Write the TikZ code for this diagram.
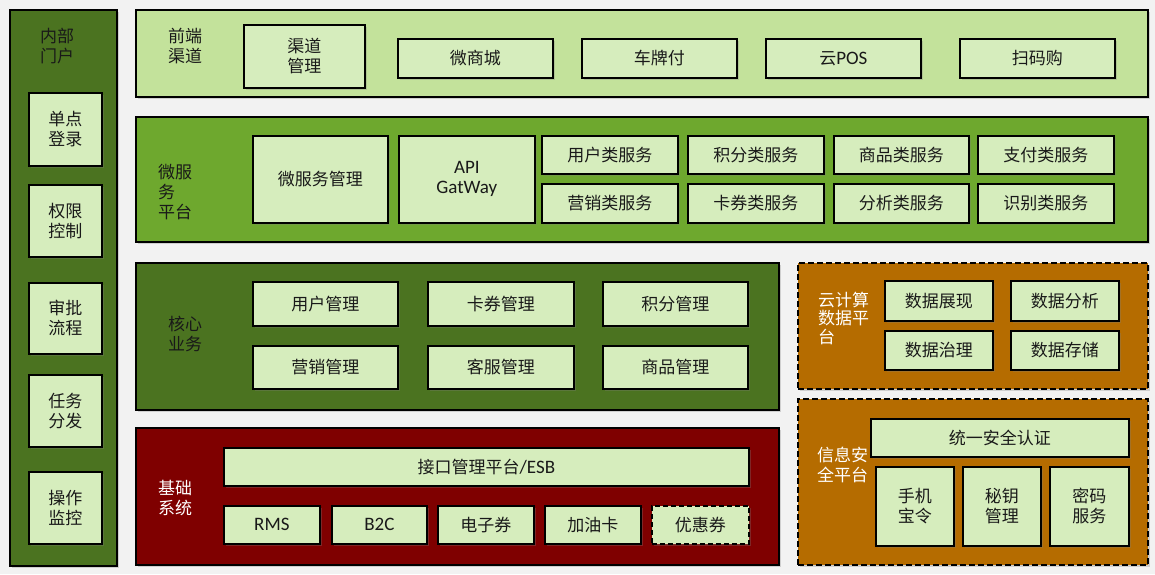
\documentclass[tikz,border=0pt]{standalone}
\usepackage{fontspec}
\setmainfont{Carlito}
\newfontfamily\cjk{Noto Sans CJK SC}
\usetikzlibrary{shadows}
\definecolor{bgc}{HTML}{F2F2F2}
\definecolor{darkg}{HTML}{4B7320}
\definecolor{lightg}{HTML}{C3E29B}
\definecolor{midg}{HTML}{6EA82E}
\definecolor{innerc}{HTML}{D6EDBD}
\definecolor{redc}{HTML}{7F0000}
\definecolor{orc}{HTML}{B56C00}
\tikzset{
  shd/.style={drop shadow={opacity=0.3, shadow xshift=2pt, shadow yshift=-2pt}},
  frame/.style={draw=black, line width=1.6pt, anchor=north west, inner sep=0pt, shd},
  dframe/.style={frame, dash pattern=on 6pt off 3pt},
  ibox/.style={draw=black, line width=1.7pt, fill=innerc, anchor=north west, inner sep=0pt,
    align=center, font=\fontsize{17}{20}\selectfont\cjk, text=black!90, shd},
  latb/.style={font=\fontsize{19}{20}\selectfont\rmfamily},
  lbl/.style={align=left, anchor=west, inner sep=0pt, font=\fontsize{17}{20}\selectfont\cjk, text=black!90},
  wlbl/.style={lbl, text=white, font=\fontsize{17}{18.5}\selectfont\cjk},
}
\newcommand\lat[1]{{\fontsize{19}{20}\selectfont\rmfamily #1}}
\begin{document}
\begin{tikzpicture}[x=1pt,y=-1pt]
\useasboundingbox[fill=bgc] (0,0) rectangle (1155,574);
% left column
\node[frame, fill=darkg, minimum width=107pt, minimum height=556pt] (left) at (9,9) {};
\node[lbl, anchor=center, align=center] (leftl) at (57,46) {内部\\门户};
\node[ibox, minimum width=73pt, minimum height=73pt] (l1) at (28,92) {单点\\登录};
\node[ibox, minimum width=73pt, minimum height=72pt] (l2) at (28,184) {权限\\控制};
\node[ibox, minimum width=73pt, minimum height=71pt] (l3) at (28,282) {审批\\流程};
\node[ibox, minimum width=73pt, minimum height=72pt] (l4) at (28,374) {任务\\分发};
\node[ibox, minimum width=73pt, minimum height=72pt] (l5) at (28,471) {操作\\监控};
% front channel
\node[frame, fill=lightg, minimum width=1012pt, minimum height=87pt] (front) at (135,9) {};
\node[lbl, anchor=center, align=center] (frontl) at (185,46) {前端\\渠道};
\node[ibox, minimum width=121pt, minimum height=63pt] (f1) at (243,24) {渠道\\管理};
\node[ibox, minimum width=155pt, minimum height=39pt] (f2) at (397,38) {微商城};
\node[ibox, minimum width=155pt, minimum height=39pt] (f3) at (581,38) {车牌付};
\node[ibox, minimum width=155pt, minimum height=39pt] (f4) at (765,38) {云\lat{POS}};
\node[ibox, minimum width=155pt, minimum height=39pt] (f5) at (959,38) {扫码购};
% microservice
\node[frame, fill=midg, minimum width=1012pt, minimum height=125pt] (micro) at (135,116) {};
\node[lbl] (microl) at (158,192) {微服\\务\\平台};
\node[ibox, minimum width=135pt, minimum height=87pt] (m1) at (252,135) {微服务管理};
\node[ibox, minimum width=136pt, minimum height=87pt, latb] (m2) at (398,135) {API\\GatWay};
\node[ibox, minimum width=136pt, minimum height=38pt] (s1) at (541,135) {用户类服务};
\node[ibox, minimum width=136pt, minimum height=38pt] (s2) at (687,135) {积分类服务};
\node[ibox, minimum width=135pt, minimum height=38pt] (s3) at (833,135) {商品类服务};
\node[ibox, minimum width=136pt, minimum height=38pt] (s4) at (977,135) {支付类服务};
\node[ibox, minimum width=136pt, minimum height=39pt] (s5) at (541,183) {营销类服务};
\node[ibox, minimum width=136pt, minimum height=39pt] (s6) at (687,183) {卡券类服务};
\node[ibox, minimum width=135pt, minimum height=39pt] (s7) at (833,183) {分析类服务};
\node[ibox, minimum width=136pt, minimum height=39pt] (s8) at (977,183) {识别类服务};
% core business
\node[frame, fill=darkg, minimum width=643pt, minimum height=147pt] (core) at (135,262) {};
\node[lbl, anchor=center, align=center] (corel) at (185,334) {核心\\业务};
\node[ibox, minimum width=145pt, minimum height=44pt] (c1) at (252,281) {用户管理};
\node[ibox, minimum width=146pt, minimum height=44pt] (c2) at (427,281) {卡券管理};
\node[ibox, minimum width=145pt, minimum height=44pt] (c3) at (602,281) {积分管理};
\node[ibox, minimum width=145pt, minimum height=43pt] (c4) at (252,345) {营销管理};
\node[ibox, minimum width=146pt, minimum height=43pt] (c5) at (427,345) {客服管理};
\node[ibox, minimum width=145pt, minimum height=43pt] (c6) at (602,345) {商品管理};
% base system
\node[frame, fill=redc, minimum width=643pt, minimum height=137pt] (base) at (135,427) {};
\node[wlbl, align=center, anchor=center, font=\fontsize{17}{20}\selectfont\cjk] (basel) at (175,498) {基础\\系统};
\node[ibox, minimum width=525pt, minimum height=38pt] (b0) at (223,447) {接口管理平台\lat{/ESB}};
\node[ibox, minimum width=96pt, minimum height=38pt, latb] (b1) at (223,505) {RMS};
\node[ibox, minimum width=95pt, minimum height=38pt, latb] (b2) at (331,505) {B2C};
\node[ibox, minimum width=96pt, minimum height=38pt] (b3) at (437,505) {电子券};
\node[ibox, minimum width=96pt, minimum height=38pt] (b4) at (544,505) {加油卡};
\node[ibox, minimum width=97pt, minimum height=38pt, dash pattern=on 5pt off 3pt] (b5) at (651,505) {优惠券};
% cloud data platform
\node[dframe, fill=orc, minimum width=350pt, minimum height=126pt] (cloud) at (797,262) {};
\node[wlbl] (cloudl) at (818,318) {云计算\\数据平\\台};
\node[ibox, minimum width=108pt, minimum height=40pt] (d1) at (884,280) {数据展现};
\node[ibox, minimum width=108pt, minimum height=40pt] (d2) at (1010,280) {数据分析};
\node[ibox, minimum width=108pt, minimum height=39pt] (d3) at (884,330) {数据治理};
\node[ibox, minimum width=108pt, minimum height=39pt] (d4) at (1010,330) {数据存储};
% security platform
\node[dframe, fill=orc, minimum width=350pt, minimum height=166pt] (sec) at (797,398) {};
\node[wlbl, font=\fontsize{17}{20}\selectfont\cjk] (secl) at (817,465) {信息安\\全平台};
\node[ibox, minimum width=258pt, minimum height=38pt] (e0) at (870,418) {统一安全认证};
\node[ibox, minimum width=78pt, minimum height=79pt] (e1) at (875,466) {手机\\宝令};
\node[ibox, minimum width=78pt, minimum height=79pt] (e2) at (962,466) {秘钥\\管理};
\node[ibox, minimum width=79pt, minimum height=79pt] (e3) at (1049,466) {密码\\服务};
\end{tikzpicture}
\end{document}
